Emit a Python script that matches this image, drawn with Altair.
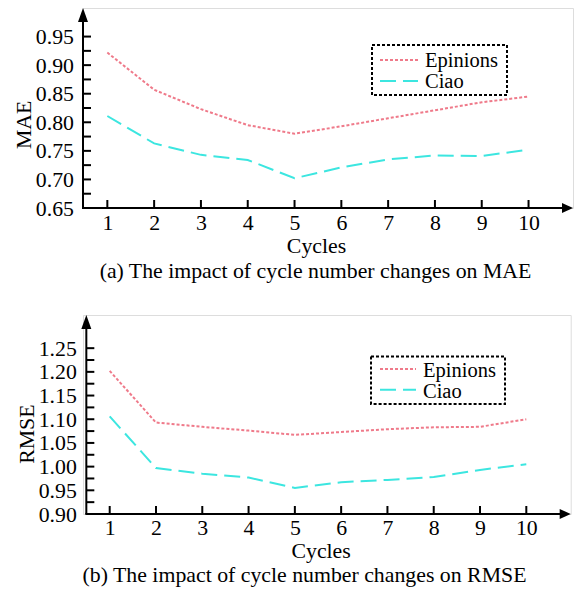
import altair as alt
import pandas as pd

# ---------------- data ----------------
cycles = [1, 2, 3, 4, 5, 6, 7, 8, 9, 10]
series = ["Epinions", "Ciao"]
mae_epinions = [0.922, 0.857, 0.823, 0.795, 0.780, 0.793, 0.807, 0.821, 0.835, 0.845]
mae_ciao = [0.811, 0.763, 0.743, 0.734, 0.702, 0.721, 0.735, 0.742, 0.741, 0.752]
rmse_epinions = [1.202, 1.093, 1.084, 1.076, 1.067, 1.073, 1.079, 1.083, 1.084, 1.100]
rmse_ciao = [1.106, 0.997, 0.985, 0.977, 0.955, 0.967, 0.972, 0.978, 0.993, 1.005]
mae_ticks = [0.65, 0.70, 0.75, 0.80, 0.85, 0.90, 0.95]
rmse_ticks = [0.90, 0.95, 1.00, 1.05, 1.10, 1.15, 1.20, 1.25]
caption_a = "(a) The impact of cycle number changes on MAE"
caption_b = "(b) The impact of cycle number changes on RMSE"

FONT = "Liberation Serif"
FS = 21.8
LEG_FS = 20.5
COLORS = ["#EF7A8A", "#3CE6E0"]
DASHES = [[3, 2], [16, 7]]


def make_df(a, b):
    return pd.DataFrame({
        "cycle": cycles + cycles,
        "value": a + b,
        "series": [series[0]] * len(cycles) + [series[1]] * len(cycles),
    })


def panel(df, ydom, majors, ytitle, xdom, axis_x, width, height,
          ylab_pad, xlab_pad, ytitle_x, ytitle_y, xtitle_x, xtitle_y,
          caption, cap_x, cap_y, box, leg_x, leg_y, txt_x, txt_y):
    xs = alt.Scale(domain=xdom, nice=False, zero=False)
    ys = alt.Scale(domain=ydom, nice=False, zero=False)
    pxx = width / (xdom[1] - xdom[0])
    pxy = height / (ydom[1] - ydom[0])
    step = majors[1] - majors[0]
    minors = [round(m + step / 2, 4) for m in majors[:-1]]

    xaxis = alt.Axis(
        values=cycles, format="d", domain=False, ticks=False, tickSize=0,
        grid=False, labelFont=FONT, labelFontSize=FS, labelColor="black",
        labelPadding=xlab_pad, labelFlush=False,
        title="Cycles", titleFont=FONT, titleFontSize=FS, titleFontWeight="normal",
        titleColor="black", titleX=xtitle_x, titleY=xtitle_y,
        titleBaseline="alphabetic", titleAlign="center")
    yaxis = alt.Axis(
        values=majors, format=".2f", domain=False, ticks=False, tickSize=0,
        grid=False, labelFont=FONT, labelFontSize=FS, labelColor="black",
        labelPadding=ylab_pad, labelFlush=False,
        title=ytitle, titleFont=FONT, titleFontSize=FS, titleFontWeight="normal",
        titleColor="black", titleX=ytitle_x, titleY=ytitle_y,
        titleBaseline="alphabetic", titleAlign="center", titleAngle=270)

    def X(f):
        return alt.X(f, scale=xs, axis=xaxis, title="Cycles")

    def Y(f):
        return alt.Y(f, scale=ys, axis=yaxis, title=ytitle)

    lines = alt.Chart(df).mark_line(strokeWidth=2).encode(
        x=X("cycle:Q"), y=Y("value:Q"),
        color=alt.Color("series:N", scale=alt.Scale(domain=series, range=COLORS), legend=None),
        strokeDash=alt.StrokeDash("series:N", scale=alt.Scale(domain=series, range=DASHES), legend=None),
    )

    one = pd.DataFrame({"x": [axis_x], "y": [ydom[0]],
                        "xe": [xdom[1] - 6 / pxx], "ye": [ydom[1] - 6 / pxy],
                        "xs": [axis_x - 1 / pxx],
                        "xt": [xdom[1]], "yt": [ydom[1]]})
    yline = alt.Chart(one).mark_rule(strokeWidth=2, color="black").encode(
        x=X("x:Q"), y=Y("y:Q"), y2="ye:Q")
    xline = alt.Chart(one).mark_rule(strokeWidth=2, color="black").encode(
        x=X("xs:Q"), x2="xe:Q", y=Y("y:Q"))

    ytk = pd.DataFrame({"v": majors + minors})
    ytk["x"] = axis_x
    ytk["x2"] = axis_x + 8 / pxx
    yticks = alt.Chart(ytk).mark_rule(strokeWidth=2, color="black").encode(
        x=X("x:Q"), x2="x2:Q", y=Y("v:Q"))

    xtk = pd.DataFrame({"c": cycles})
    xtk["y"] = ydom[0]
    xtk["y2"] = ydom[0] + 8 / pxy
    xticks = alt.Chart(xtk).mark_rule(strokeWidth=2, color="black").encode(
        x=X("c:Q"), y=Y("y:Q"), y2="y2:Q")

    up = alt.Chart(one).mark_point(
        shape="M0,0L0.714,2L-0.714,2Z", size=196, filled=True, color="black",
        opacity=1, strokeWidth=0).encode(x=X("x:Q"), y=Y("yt:Q"))
    right = alt.Chart(one).mark_point(
        shape="M0,0L-2,0.909L-2,-0.909Z", size=121, filled=True, color="black",
        opacity=1, strokeWidth=0).encode(x=X("xt:Q"), y=Y("y:Q"))

    base = alt.Chart(pd.DataFrame({"a": [0]}))
    legbox = base.mark_rect(fill="transparent", stroke="black", strokeWidth=2,
                            strokeDash=[3, 2]).encode(
        x=alt.value(box[0]), x2=alt.value(box[1]), y=alt.value(box[2]), y2=alt.value(box[3]))
    leg_layers = [legbox]
    for i, s in enumerate(series):
        leg_layers.append(base.mark_rule(strokeWidth=2, color=COLORS[i], strokeDash=DASHES[i]).encode(
            x=alt.value(leg_x[0]), x2=alt.value(leg_x[1]), y=alt.value(leg_y[i])))
        leg_layers.append(base.mark_text(text=s, font=FONT, fontSize=LEG_FS, color="black",
                                         align="left", baseline="alphabetic").encode(
            x=alt.value(txt_x), y=alt.value(txt_y[i])))

    cap = base.mark_text(text=caption, font=FONT, fontSize=FS, color="black",
                         align="center", baseline="alphabetic").encode(
        x=alt.value(cap_x), y=alt.value(cap_y))

    return alt.layer(lines, yline, xline, yticks, xticks, up, right, cap, *leg_layers).properties(
        width=width, height=height)


top = panel(make_df(mae_epinions, mae_ciao), [0.65, 1.0], mae_ticks, "MAE",
            [0.48, 10.95], 0.48, 490, 200,
            9.5, 4, -52.7, 116.3, 233, 44.0,
            caption_a, 232.5, 269.5,
            [289, 424, 37, 87], [297, 335], [52, 73], 342, [59.0, 80.0])

bottom = panel(make_df(rmse_epinions, rmse_ciao), [0.90, 1.32], rmse_ticks, "RMSE",
               [0.4232, 10.959], 0.495, 487.7, 199,
               6.7, 3, -50, 118.7, 237.6, 43.0,
               caption_b, 221.5, 266.5,
               [288, 422, 41.4, 89], [297, 333], [54, 74.7], 340, [61.7, 82.7])

chart = alt.vconcat(top, bottom, spacing=31).properties(
    padding={"left": 12, "top": 7, "right": 0, "bottom": 0}
).configure_view(strokeWidth=0).configure(background="white")

chart.save("out.html", embed_options={"renderer": "svg", "actions": False})
